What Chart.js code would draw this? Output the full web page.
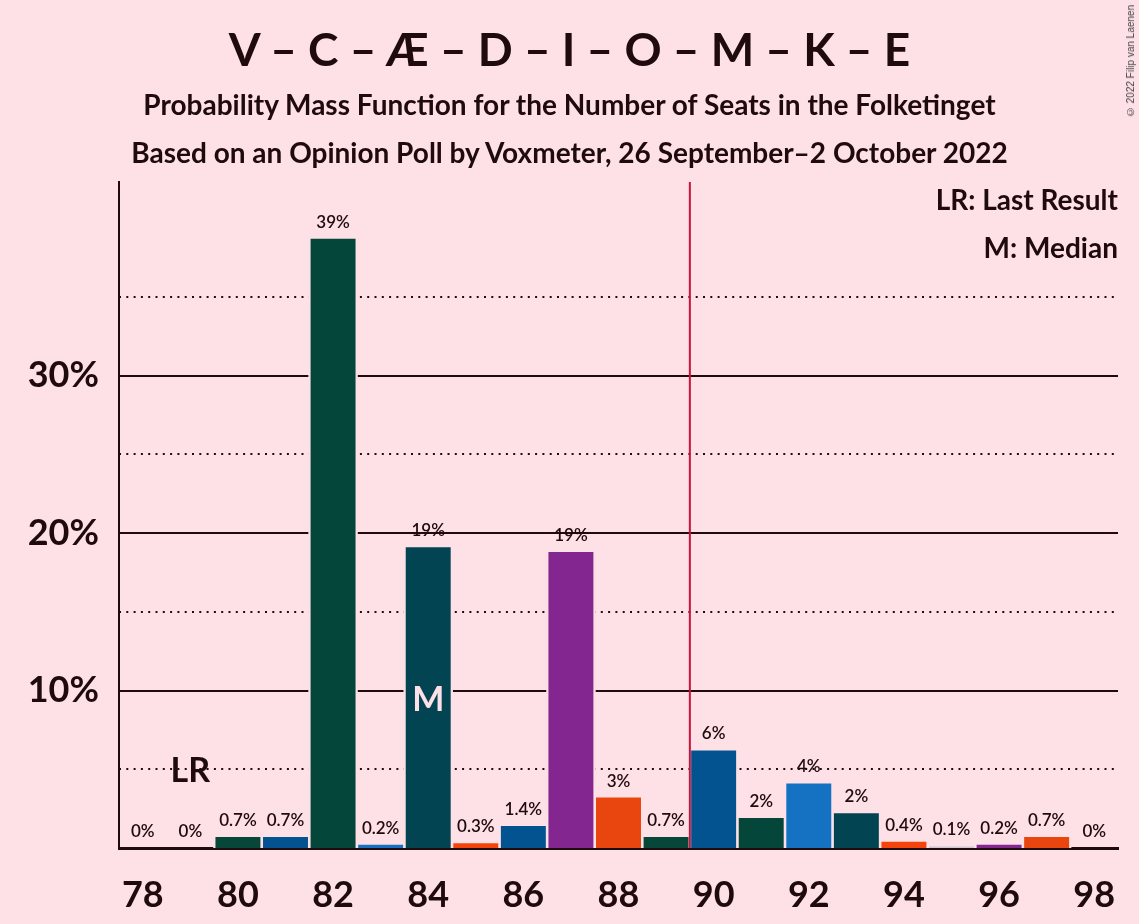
<!DOCTYPE html>
<html>
<head>
<meta charset="utf-8">
<title>V – C – Æ – D – I – O – M – K – E</title>
<script src="https://cdn.jsdelivr.net/npm/chart.js@4.4.1/dist/chart.umd.min.js"></script>
<style>
  html, body { margin: 0; padding: 0; background: #fde1e6; }
  #wrap { position: relative; width: 1139px; height: 924px; overflow: hidden;
          font-family: Lato, 'Open Sans', sans-serif; color: #1f0a0e; }
  #wrap canvas { position: absolute; left: 0; top: 0; }
  .line { position: absolute; left: 0; width: 1139px; text-align: center;
          font-weight: bold; white-space: nowrap; line-height: 1; }
  #title { top: 26px; font-size: 46px; }
  #sub1 { top: 90px; font-size: 28px; }
  #sub2 { top: 138px; font-size: 28px; }
  .note { position: absolute; right: 21px; font-size: 28px; font-weight: bold;
          line-height: 1; white-space: nowrap; }
  #noteLR { top: 185px; }
  #noteM { top: 233px; }
  #copy { position: absolute; left: 1125px; top: 5px; font-family: 'Liberation Sans', Arial, sans-serif;
          font-size: 10px; line-height: 12px; color: #444; writing-mode: vertical-rl;
          transform: rotate(180deg); white-space: nowrap; }
</style>
</head>
<body>
<div id="wrap">
  <canvas id="pmfChart" width="1139" height="924"></canvas>
  <div class="line" id="title">V – C – Æ – D – I – O – M – K – E</div>
  <div class="line" id="sub1">Probability Mass Function for the Number of Seats in the Folketinget</div>
  <div class="line" id="sub2">Based on an Opinion Poll by Voxmeter, 26 September–2 October 2022</div>
  <div class="note" id="noteLR">LR: Last Result</div>
  <div class="note" id="noteM">M: Median</div>
  <div id="copy">© 2022 Filip van Laenen</div>
</div>
<script>
const BG = '#fde1e6';
const INK = '#1f0a0e';

const seats = [78, 79, 80, 81, 82, 83, 84, 85, 86, 87, 88, 89, 90, 91, 92, 93, 94, 95, 96, 97, 98];
const probabilities = [0, 0, 0.7, 0.7, 38.7, 0.2, 19.1, 0.3, 1.4, 18.8, 3.2, 0.7, 6.2, 1.9, 4.1, 2.2, 0.4, 0.1, 0.2, 0.7, 0];
const barColors = [
    '#83268f', '#e8450f', '#07473a', '#02538f', '#05463a', '#1572c2', '#034452',
    '#f4440c', '#02538f', '#83268f', '#e8450f', '#07473a', '#02538f', '#05463a',
    '#1572c2', '#034452', '#f4440c', '#cfc6d8', '#83268f', '#e8450f', '#07473a'
];
const xTickLabels = ['78', '80', '82', '84', '86', '88', '90', '92', '94', '96', '98'];
const yTickValues = [10, 20, 30];
const yMinorTickValues = [5, 15, 25, 35];
const lastResultSeat = 79;
const medianSeat = 84;
const majorityAfterSeat = 89;

function formatPct(v) {
    if (v === 0) return '0%';
    if (v < 1.5) return v.toFixed(1) + '%';
    return Math.round(v) + '%';
}

const annotationsPlugin = {
    id: 'annotations',
    afterDatasetsDraw(chart) {
        const { ctx, chartArea, scales } = chart;
        const x = scales.x, y = scales.y;
        ctx.save();

        // majority line
        const mx = x.getPixelForValue(seats.indexOf(majorityAfterSeat) + 0.5);
        ctx.strokeStyle = '#c8143c';
        ctx.lineWidth = 2;
        ctx.beginPath();
        ctx.moveTo(mx, chartArea.top);
        ctx.lineTo(mx, chartArea.bottom);
        ctx.stroke();

        // value labels
        ctx.textAlign = 'center';
        ctx.textBaseline = 'middle';
        ctx.fillStyle = INK;
        ctx.font = '600 17px Lato';
        chart.getDatasetMeta(0).data.forEach((bar, i) => {
            ctx.fillText(formatPct(probabilities[i]), bar.x, bar.y - 16.5);
        });

        // last result and median markers
        ctx.font = 'bold 34px Lato';
        ctx.fillText('LR', x.getPixelForValue(seats.indexOf(lastResultSeat)), y.getPixelForValue(4.9));
        ctx.fillStyle = BG;
        ctx.fillText('M', x.getPixelForValue(seats.indexOf(medianSeat)), y.getPixelForValue(9.4));
        ctx.restore();
    }
};

new Chart(document.getElementById('pmfChart'), {
    type: 'bar',
    plugins: [annotationsPlugin],
    data: {
        labels: seats.map(String),
        datasets: [{
            data: probabilities,
            backgroundColor: barColors,
            borderWidth: 0,
            barPercentage: 0.945,
            categoryPercentage: 1,
            grouped: false,
            order: 0
        }, {
            // background-coloured halo that cuts the grid lines round each bar
            data: probabilities,
            backgroundColor: BG,
            borderWidth: 0,
            barPercentage: 1.04,
            categoryPercentage: 1,
            grouped: false,
            order: 1
        }]
    },
    options: {
        responsive: false,
        animation: false,
        events: [],
        layout: { padding: { top: 182, right: 21, left: 0, bottom: 0 } },
        plugins: { legend: { display: false }, tooltip: { enabled: false } },
        scales: {
            x: {
                grid: { display: false },
                border: { color: INK, width: 3 },
                ticks: {
                    autoSkip: false,
                    maxRotation: 0,
                    color: INK,
                    padding: 18,
                    font: { family: 'Lato', size: 36, weight: 'bold' },
                    callback: (val, i) => xTickLabels.includes(String(seats[i])) ? String(seats[i]) : ''
                },
                afterFit: s => { s.height = 76; }
            },
            y: {
                position: 'left',
                min: 0,
                max: 42.3,
                afterBuildTicks: s => { s.ticks = yTickValues.map(v => ({ value: v })); },
                grid: { color: INK, lineWidth: 2, drawTicks: false },
                border: { color: INK, width: 2 },
                ticks: {
                    color: INK,
                    padding: 20,
                    font: { family: 'Lato', size: 36, weight: 'bold' },
                    callback: v => v + '%'
                },
                afterFit: s => { s.width = 119; }
            },
            y2: {
                position: 'left',
                min: 0,
                max: 42.3,
                afterBuildTicks: s => { s.ticks = yMinorTickValues.map(v => ({ value: v })); },
                grid: { color: INK, lineWidth: 2, drawTicks: false },
                border: { display: false, dash: [2, 5.3] },
                ticks: { display: false },
                afterFit: s => { s.width = 0; }
            }
        }
    }
});
</script>
</body>
</html>
